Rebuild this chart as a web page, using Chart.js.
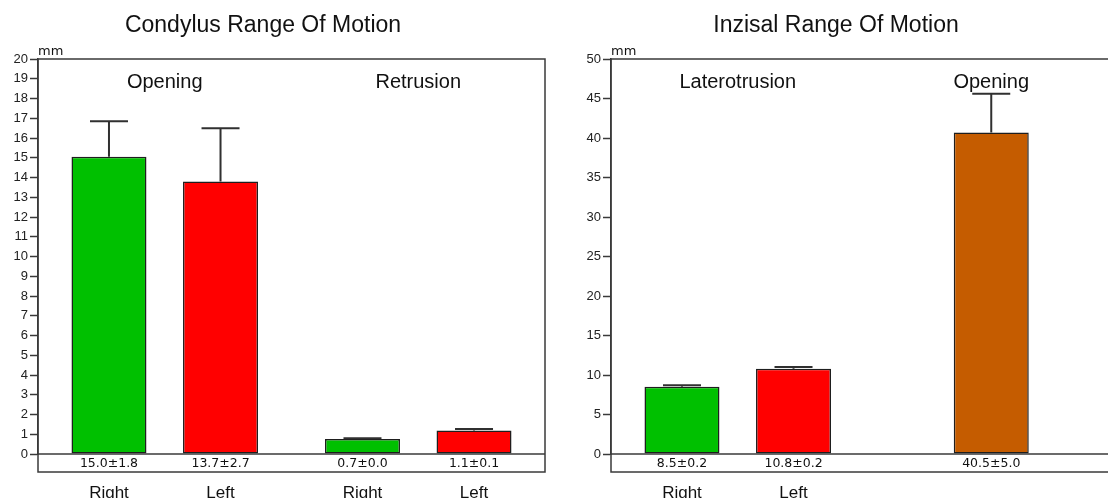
<!DOCTYPE html>
<html><head><meta charset="utf-8">
<script src="https://cdn.jsdelivr.net/npm/chart.js@4.4.0/dist/chart.umd.min.js"></script>
<style>
html,body{margin:0;padding:0;background:#fff;overflow:hidden;width:1108px;height:498px;}
#w1{position:absolute;left:0;top:0;width:554px;height:498px;}
#w2{position:absolute;left:548px;top:0;width:580px;height:498px;}
</style></head><body>
<div id="w1"><canvas id="c1" width="554" height="498"></canvas></div>
<div id="w2"><canvas id="c2" width="580" height="498"></canvas></div>
<script>
// ---------- data: Condylus ----------
const condylusTitle = 'Condylus Range Of Motion';
const condylusGroups = ['Opening', 'Retrusion'];
const condylusRight = [15.05, 0.76];
const condylusRightSD = [1.8, 0.04];
const condylusLeft = [13.8, 1.19];
const condylusLeftSD = [2.7, 0.07];
const condylusRightText = ['15.0±1.8', '0.7±0.0'];
const condylusLeftText = ['13.7±2.7', '1.1±0.1'];
const condylusTicks = [0,1,2,3,4,5,6,7,8,9,10,11,12,13,14,15,16,17,18,19,20];

// ---------- data: Inzisal ----------
const inzisalTitle = 'Inzisal Range Of Motion';
const inzisalGroups = ['Laterotrusion', 'Opening'];
const inzisalRight = [8.5, null];
const inzisalRightSD = [0.2, null];
const inzisalLeft = [10.8, null];
const inzisalLeftSD = [0.2, null];
const inzisalOpening = [null, 40.7];
const inzisalOpeningSD = [null, 4.9];
const inzisalRightText = ['8.5±0.2', null];
const inzisalLeftText = ['10.8±0.2', null];
const inzisalOpeningText = [null, '40.5±5.0'];
const inzisalTicks = [0,5,10,15,20,25,30,35,40,45,50];

const sideRight = 'Right';
const sideLeft = 'Left';
const unitLabel = 'mm';

// ---------- styles ----------
const GREEN = '#00c000', RED = '#ff0000', BROWN = '#c55c00';
const LINE = '#3a3a3a';

const decor = {
  id: 'decor',
  afterDatasetsDraw(chart) {
    const ctx = chart.ctx, a = chart.chartArea;
    const y = chart.scales.y, x = chart.scales.x;
    const cfg = chart.options.plugins.decor;
    ctx.save();
    // error bars
    chart.data.datasets.forEach((ds, di) => {
      const meta = chart.getDatasetMeta(di);
      meta.data.forEach((bar, i) => {
        const v = ds.data[i];
        if (v === null || v === undefined) return;
        const sd = ds.sd[i];
        const yt = y.getPixelForValue(v + sd);
        ctx.strokeStyle = '#303030';
        ctx.lineWidth = 2;
        ctx.beginPath();
        ctx.moveTo(bar.x, bar.y); ctx.lineTo(bar.x, yt);
        ctx.moveTo(bar.x - 19, yt); ctx.lineTo(bar.x + 19, yt);
        ctx.stroke();
      });
    });
    // box
    ctx.strokeStyle = LINE;
    ctx.lineWidth = 1.5;
    ctx.strokeRect(a.left, a.top, a.right - a.left, a.bottom + 18 - a.top);
    ctx.beginPath();
    ctx.moveTo(a.left, a.bottom); ctx.lineTo(a.right, a.bottom);
    ctx.stroke();
    // title
    ctx.fillStyle = '#111';
    ctx.textAlign = 'center';
    ctx.textBaseline = 'alphabetic';
    ctx.font = '23px "Liberation Sans", Arial, sans-serif';
    ctx.fillText(cfg.title, a.left + 225, 31.5);
    // unit
    ctx.textAlign = 'left';
    ctx.font = '13px "DejaVu Sans", sans-serif';
    ctx.fillText(unitLabel, a.left, 55);
    // group labels
    ctx.textAlign = 'center';
    ctx.font = '20px "Liberation Sans", Arial, sans-serif';
    cfg.groups.forEach((g, i) => ctx.fillText(g, x.getPixelForValue(i), 87.5));
    // value + side labels
    chart.data.datasets.forEach((ds, di) => {
      const meta = chart.getDatasetMeta(di);
      meta.data.forEach((bar, i) => {
        const t = ds.valueText[i];
        if (!t) return;
        ctx.font = '12.5px "DejaVu Sans", sans-serif';
        ctx.textBaseline = 'middle';
        ctx.fillText(t, bar.x, a.bottom + 9.5);
        if (ds.side) {
          ctx.font = '17px "Liberation Sans", Arial, sans-serif';
          ctx.textBaseline = 'alphabetic';
          ctx.fillText(ds.side, bar.x, 498);
        }
      });
    });
    ctx.restore();
  }
};

function makeChart(id, groups, datasets, ticks, max, axisW, padRight, title) {
  return new Chart(document.getElementById(id), {
    type: 'bar',
    data: { labels: groups, datasets },
    options: {
      responsive: false,
      animation: false,
      layout: { padding: { left: 0, right: padRight, top: 59, bottom: 44 } },
      datasets: { bar: {
        categoryPercentage: 0.88, barPercentage: 0.673, maxBarThickness: 75,
        skipNull: true, borderWidth: 1.5, borderColor: '#1e1e1e', borderSkipped: false
      } },
      scales: {
        x: { display: false },
        y: {
          min: 0, max: max,
          afterFit: s => { s.width = axisW; },
          afterBuildTicks: s => { s.ticks = ticks.map(v => ({ value: v })); },
          grid: { drawOnChartArea: false, drawTicks: true, tickLength: 8, tickColor: LINE, tickWidth: 1.5 },
          border: { display: true, color: LINE, width: 1.5 },
          ticks: { padding: 2, color: '#222', font: { family: '"Liberation Sans", Arial, sans-serif', size: 13 } }
        }
      },
      plugins: { legend: { display: false }, tooltip: { enabled: false }, title: { display: false },
        decor: { title, groups } }
    },
    plugins: [decor]
  });
}

makeChart('c1', condylusGroups, [
  { label: sideRight, data: condylusRight, sd: condylusRightSD, valueText: condylusRightText, side: sideRight, backgroundColor: GREEN },
  { label: sideLeft, data: condylusLeft, sd: condylusLeftSD, valueText: condylusLeftText, side: sideLeft, backgroundColor: RED }
], condylusTicks, 20, 38, 9, condylusTitle);

makeChart('c2', inzisalGroups, [
  { label: sideRight, data: inzisalRight, sd: inzisalRightSD, valueText: inzisalRightText, side: sideRight, backgroundColor: GREEN },
  { label: sideLeft, data: inzisalLeft, sd: inzisalLeftSD, valueText: inzisalLeftText, side: sideLeft, backgroundColor: RED },
  { label: 'Opening', data: inzisalOpening, sd: inzisalOpeningSD, valueText: inzisalOpeningText, side: null, backgroundColor: BROWN }
], inzisalTicks, 50, 63, 10, inzisalTitle);
</script>
</body></html>
